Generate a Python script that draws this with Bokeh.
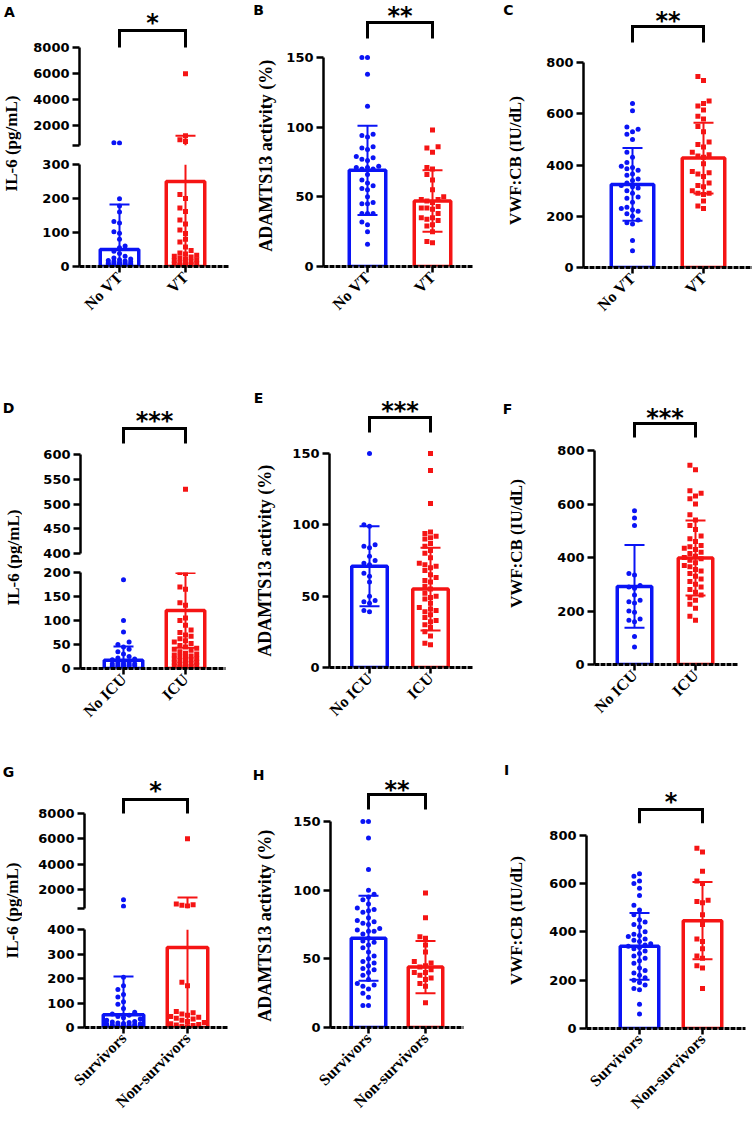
import math
from bokeh.plotting import figure
from bokeh.models import Range1d, FixedTicker, Label
from bokeh.layouts import row, column
from bokeh.core.properties import value
from bokeh.embed import file_html
from bokeh.resources import INLINE

# ---------------- data ----------------
VT_CATS = ["No VT", "VT"]
ICU_CATS = ["No ICU", "ICU"]
SURV_CATS = ["Survivors", "Non-survivors"]

IL6_LABEL = "IL-6 (pg/mL)"
ADAM_LABEL = "ADAMTS13 activity  (%)"
VWF_LABEL = "VWF:CB  (IU/dL)"

# A: IL-6, No VT vs VT
A_g1 = [720, 700, 199, 178, 160, 132, 128, 102, 98, 80, 60, 55, 45, 38, 30, 25, 22, 20, 18, 16,
        15, 14, 12, 10, 10, 9, 8, 8, 7, 6, 5, 5, 4, 3, 3, 2, 2]
A_g2 = [6000, 1240, 940, 800, 212, 200, 172, 162, 137, 125, 107, 97, 80, 72, 57, 47, 40, 37, 33,
        30, 28, 25, 22, 20, 18, 15, 12, 10, 8, 7, 5, 4, 3]
A_mean = [50, 250]
A_sd = [132, 1000]
A_low_ticks = [0, 100, 200, 300]
A_up_ticks = [500, 2000, 4000, 6000, 8000]

# B: ADAMTS13, No VT vs VT
B_g1 = [150, 150, 138, 115, 95, 94, 93, 86, 85, 84, 79, 78, 77, 76, 72, 71, 71, 70, 70, 66, 62,
        60, 58, 56, 55, 50, 46, 45, 45, 38, 38, 38, 32, 30, 25, 16]
B_g2 = [98, 86, 85, 82, 71, 70, 66, 62, 55, 50, 48, 48, 47, 46, 43, 42, 42, 41, 38, 35, 35, 34,
        33, 30, 29, 25, 18, 17]
B_mean = [69, 47]
B_sd = [32, 22]
B_ticks = [0, 50, 100, 150]

# C: VWF:CB, No VT vs VT
C_g1 = [640, 612, 548, 540, 530, 520, 500, 450, 430, 410, 395, 390, 385, 380, 365, 360, 345, 340,
        330, 320, 315, 310, 300, 290, 275, 270, 255, 235, 230, 225, 220, 210, 200, 185, 175, 170,
        105, 65]
C_g2 = [745, 730, 650, 640, 630, 615, 590, 580, 550, 530, 490, 480, 470, 450, 440, 435, 430, 405,
        375, 370, 365, 355, 330, 320, 315, 300, 290, 290, 285, 260, 240, 230]
C_mean = [324, 427]
C_sd = [142, 138]
C_ticks = [0, 200, 400, 600, 800]

# D: IL-6, No ICU vs ICU
D_g1 = [185, 100, 76, 55, 50, 45, 40, 35, 30, 25, 22, 20, 18, 15, 12, 12, 10, 10, 10, 8, 8, 7, 6,
        5, 5, 4, 3]
D_g2 = [530, 200, 198, 170, 165, 137, 132, 105, 100, 90, 80, 75, 70, 67, 62, 58, 55, 52, 48, 45,
        42, 40, 38, 35, 32, 30, 28, 26, 25, 23, 21, 20, 18, 16, 15, 13, 12, 10, 9, 8, 7, 5, 4, 3, 2]
D_mean = [17, 121]
D_sd = [29, 78]
D_low_ticks = [0, 50, 100, 150, 200]
D_up_ticks = [400, 450, 500, 550, 600]

# E: ADAMTS13, No ICU vs ICU
E_g1 = [150, 100, 99, 86, 85, 84, 78, 75, 73, 72, 66, 64, 60, 50, 47, 46, 45, 40, 39]
E_g2 = [150, 138, 115, 95, 94, 92, 91, 90, 87, 85, 82, 80, 77, 73, 72, 71, 70, 68, 65, 63, 61, 60,
        57, 55, 52, 50, 49, 48, 45, 42, 41, 40, 39, 37, 35, 33, 32, 30, 28, 25, 22, 17, 16]
E_mean = [71, 55]
E_sd = [28, 29]
E_ticks = [0, 50, 100, 150]

# F: VWF:CB, No ICU vs ICU
F_g1 = [575, 548, 520, 340, 335, 295, 290, 285, 260, 240, 235, 230, 200, 195, 170, 165, 160, 105, 65]
F_g2 = [745, 728, 650, 640, 630, 620, 600, 560, 540, 520, 505, 480, 470, 460, 445, 440, 435, 430,
        420, 415, 405, 400, 395, 390, 380, 370, 365, 355, 350, 340, 330, 320, 310, 300, 290, 280,
        270, 260, 250, 240, 225, 210, 180, 165]
F_mean = [292, 398]
F_sd = [155, 140]
F_ticks = [0, 200, 400, 600, 800]

# G: IL-6, Survivors vs Non-survivors
G_g1 = [1200, 680, 205, 170, 155, 135, 125, 105, 95, 78, 62, 55, 50, 45, 40, 35, 30, 25, 22, 20,
        18, 16, 15, 14, 12, 10, 10, 9, 8, 7, 6, 5, 5, 4, 3, 2]
G_g2 = [6000, 850, 800, 760, 700, 185, 170, 65, 60, 55, 50, 45, 42, 38, 35, 30, 25, 20, 15, 12, 10,
        8, 5, 3]
G_mean = [52, 327]
G_sd = [156, 1050]
G_low_ticks = [0, 100, 200, 300, 400]
G_up_ticks = [500, 2000, 4000, 6000, 8000]

# H: ADAMTS13, Survivors vs Non-survivors
H_g1 = [150, 150, 138, 115, 100, 97, 95, 93, 90, 87, 86, 85, 84, 80, 78, 77, 76, 75, 72, 71, 70, 70,
        68, 65, 63, 62, 60, 58, 55, 52, 50, 48, 47, 45, 43, 42, 40, 38, 35, 32, 31, 30, 28, 25, 22,
        16, 16]
H_g2 = [98, 80, 66, 65, 60, 55, 48, 47, 45, 44, 42, 40, 40, 38, 36, 35, 32, 30, 18]
H_mean = [65, 44]
H_sd = [31, 19]
H_ticks = [0, 50, 100, 150]

# I: VWF:CB, Survivors vs Non-survivors
I_g1 = [640, 630, 610, 600, 580, 550, 510, 490, 470, 450, 440, 430, 420, 400, 390, 385, 380, 370,
        365, 360, 350, 345, 340, 335, 330, 320, 310, 300, 290, 280, 270, 250, 240, 230, 220, 210,
        200, 190, 180, 165, 160, 100, 60]
I_g2 = [745, 730, 650, 610, 600, 530, 525, 520, 470, 430, 370, 360, 330, 300, 290, 260, 250, 165]
I_mean = [340, 446]
I_sd = [138, 160]
I_ticks = [0, 200, 400, 600, 800]

# ---------------- layout / style (page pixel positions) ----------------
BLUE = "#0a14f5"
RED = "#f51414"
SANS = "DejaVu Sans"
SERIF = "Liberation Serif"

COLS_X = [0, 250, 500]
COLS_W = [250, 250, 252]
LAB_W = [22, 27, 27]
ROWS_Y = [0, 375, 755]
ROWS_H = [375, 380, 365]
BIG = 1e12


def swarm(ypx, maxoff, d=5.6):
    """Deterministic beeswarm: horizontal pixel offsets so points do not overlap."""
    cands = [0.0]
    k = 1
    while k * d <= maxoff + 1e-9:
        cands += [-k * d, k * d]
        k += 1
    order = sorted(range(len(ypx)), key=lambda i: ypx[i])
    placed = []
    out = [0.0] * len(ypx)
    for i in order:
        y = ypx[i]
        best, bestc, bestscore = None, 0.0, -1.0
        for c in cands:
            md = min((math.hypot(c - px, y - py) for px, py in placed), default=1e9)
            if md >= d * 0.999:
                best = c
                break
            if md > bestscore:
                bestscore, bestc = md, c
        if best is None:
            best = bestc
        placed.append((best, y))
        out[i] = best
    return out


def base_fig(w, h, xr, yr, bl, br, bt, bb, xaxis=True, yaxis=True):
    p = figure(width=w, height=h, x_range=xr, y_range=yr, toolbar_location=None,
               output_backend="svg", title=None,
               min_border_left=int(bl), min_border_right=int(br),
               min_border_top=int(bt), min_border_bottom=int(bb),
               x_axis_location="below" if xaxis else None,
               y_axis_location="left" if yaxis else None)
    p.grid.visible = False
    p.outline_line_color = None
    p.background_fill_color = "white"
    p.border_fill_color = "white"
    return p


def style_y(ax, ticks, overrides=None):
    ax.ticker = FixedTicker(ticks=ticks, minor_ticks=[])
    ax.bounds = (ticks[0], ticks[-1])
    ax.axis_line_width = 2.5
    ax.axis_line_color = "black"
    ax.major_tick_line_width = 2.5
    ax.major_tick_out = 7
    ax.major_tick_in = 0
    ax.minor_tick_line_color = None
    ax.major_label_text_font = SANS
    ax.major_label_text_font_style = "bold"
    ax.major_label_text_font_size = "13px"
    ax.major_label_text_color = "black"
    ax.major_label_standoff = 3
    if overrides:
        ax.major_label_overrides = overrides


def style_x(ax, cats):
    ax.ticker = FixedTicker(ticks=[1, 2], minor_ticks=[])
    ax.major_label_overrides = {1: cats[0], 2: cats[1]}
    ax.major_label_orientation = math.pi / 4
    ax.axis_line_width = 3
    ax.axis_line_color = "black"
    ax.axis_line_dash = "5 1"
    ax.major_tick_line_width = 2.5
    ax.major_tick_out = 6
    ax.major_tick_in = 0
    ax.minor_tick_line_color = None
    ax.major_label_text_font = SERIF
    ax.major_label_text_font_style = "bold"
    ax.major_label_text_font_size = "16px"
    ax.major_label_text_color = "black"
    ax.major_label_standoff = 2


def draw_groups(p, g, geo, ypx, ppx, vmin, vmax):
    """Bars, points and mean +/- SD bars; only the parts inside [vmin, vmax] are drawn."""
    bw = (geo["bw"] - 3.5) / ppx
    cols = [BLUE, RED]
    bx = [i + 1 for i in range(2) if g["mean"][i] > vmin]
    if bx:
        p.vbar(x=bx, width=bw, bottom=max(0, vmin), top=[min(g["mean"][i - 1], vmax) for i in bx],
               fill_color="white", line_color=[cols[i - 1] for i in bx], line_width=3.5)
    half = geo["bw"] / 2 - 5
    for k, (vals, col, mk) in enumerate([(g["g1"], BLUE, "circle"), (g["g2"], RED, "square")]):
        offs = swarm([ypx(v) for v in vals], half)
        xs = [k + 1 + o / ppx for v, o in zip(vals, offs) if vmin <= v <= vmax]
        ys = [v for v in vals if vmin <= v <= vmax]
        if ys:
            p.scatter(x=xs, y=ys, marker=mk, size=5, color=col, line_width=0)
    cw = 10 / ppx
    for i in range(2):
        m, s = g["mean"][i], g["sd"][i]
        lo, hi = m - s, m + s
        a, b = max(lo, vmin, 0), min(hi, vmax)
        if b > a:
            p.segment(x0=[i + 1], y0=[a], x1=[i + 1], y1=[b], line_color=cols[i], line_width=2)
        for e in (lo, hi):
            if max(vmin, 0) <= e <= vmax:
                p.segment(x0=[i + 1 - cw], y0=[e], x1=[i + 1 + cw], y1=[e],
                          line_color=cols[i], line_width=2)


def bracket(p, stars, vtop, vbot, vstar):
    p.line(x=[1, 1, 2, 2], y=[vbot, vtop, vtop, vbot], line_color="black", line_width=3,
           line_join="miter")
    p.text(x=[1.5], y=[vstar], text=[stars], text_font=value(SANS), text_font_style="bold",
           text_font_size="24px", text_align="center", text_baseline="middle", text_color="black")


def label_fig(ci, ri, g, geo, fb=None):
    """Narrow figure holding the panel letter and the rotated y-axis title.
    fb: canvas y of the frame bottom (frame spans [0, fb]); None -> whole canvas."""
    cx, ry, rh, lw = COLS_X[ci], ROWS_Y[ri], ROWS_H[ri], LAB_W[ci]
    if fb is None:
        fb = rh
    lab = base_fig(lw, rh, Range1d(0, 1), Range1d(0, 1), 0, 0, 0, rh - fb,
                   xaxis=False, yaxis=False)
    lx, ly = geo["letter"]
    lab.add_layout(Label(x=max(lx - cx, 6), y=fb - max(ly - ry, 8), x_units="screen",
                         y_units="screen", text=g["letter"], text_font=SANS,
                         text_font_style="bold", text_font_size="14px", text_align="center",
                         text_baseline="middle", text_color="black"))
    yx, yy = geo["ylab"]
    lab.add_layout(Label(x=max(yx - cx, 9), y=fb - (yy - ry), x_units="screen", y_units="screen",
                         text=g["ylabel"], text_font=SERIF, text_font_style="bold",
                         text_font_size=g["ysize"], text_align="center", text_baseline="middle",
                         angle=math.pi / 2, text_color="black"))
    return lab


def xrange_for(geo, xright):
    ppx = geo["c2"] - geo["c1"]
    return ppx, Range1d(1 - (geo["c1"] - geo["ax"]) / ppx, 2 + (xright - geo["c2"]) / ppx)


def normal_panel(ci, ri, g, geo):
    cx, cw, ry, rh, lw = COLS_X[ci], COLS_W[ci], ROWS_Y[ri], ROWS_H[ri], LAB_W[ci]
    w = cw - lw
    xright = min(geo["xr"], cx + cw)
    fl = geo["ax"] - cx - lw
    br = cx + cw - xright
    fb = geo["y0"] - ry
    t = g["ticks"]
    ppu = (geo["y0"] - geo["yt"]) / (t[-1] - t[0])
    ppx, xr = xrange_for(geo, xright)
    yr = Range1d(0, fb / ppu)
    p = base_fig(w, rh, xr, yr, fl, br, 0, rh - fb)
    style_y(p.yaxis[0], t)
    style_x(p.xaxis[0], g["cats"])
    draw_groups(p, g, geo, lambda v: v * ppu, ppx, 0, BIG)
    val = lambda yc: (fb - yc) / ppu
    sy = max(geo["star"] - ry, 8) + 5
    bracket(p, g["stars"], val(geo["br_t"] - ry), val(geo["br_b"] - ry), val(sy))
    return row(label_fig(ci, ri, g, geo, fb), p)


def broken_panel(ci, ri, g, geo):
    cx, cw, ry, rh, lw = COLS_X[ci], COLS_W[ci], ROWS_Y[ri], ROWS_H[ri], LAB_W[ci]
    w = cw - lw
    xright = min(geo["xr"], cx + cw)
    fl = geo["ax"] - cx - lw
    br = cx + cw - xright
    split = int((geo["up_b"] + geo["lo_t"]) / 2) - ry
    uh, lh = split, rh - split
    ut, lt = g["uticks"], g["lticks"]
    ppx, xr = xrange_for(geo, xright)
    # upper segment
    ppu_u = (geo["up_b"] - geo["up_t"]) / (ut[-1] - ut[0])
    fb_u = geo["up_b"] - ry
    up = base_fig(w, uh, xr, Range1d(ut[0], ut[0] + fb_u / ppu_u), fl, br, 0, uh - fb_u, xaxis=False)
    style_y(up.yaxis[0], ut, {v: "" for v in g["uhide"]})
    # lower segment
    ppu_l = (geo["y0"] - geo["lo_t"]) / (lt[-1] - lt[0])
    ft_l = geo["lo_t"] - ry - split
    fb_l = geo["y0"] - ry - split
    lo = base_fig(w, lh, xr, Range1d(0, lt[-1]), fl, br, ft_l, lh - fb_l)
    style_y(lo.yaxis[0], lt)
    style_x(lo.xaxis[0], g["cats"])

    gap = geo["y0"] - geo["up_b"]

    def ypx(v):
        if v <= lt[-1]:
            return v * ppu_l
        return gap + (v - ut[0]) * ppu_u

    draw_groups(up, g, geo, ypx, ppx, ut[0], BIG)
    draw_groups(lo, g, geo, ypx, ppx, 0, lt[-1])
    val = lambda yc: ut[0] + (fb_u - yc) / ppu_u
    sy = max(geo["star"] - ry, 8) + 5
    bracket(up, g["stars"], val(geo["br_t"] - ry), val(geo["br_b"] - ry), val(sy))
    return row(label_fig(ci, ri, g, geo), column(up, lo))


GEO = {
    "A": dict(ax=79, xr=228, c1=119, c2=185, bw=42, y0=266, lo_t=164, up_b=145, up_t=47,
              star=17, br_t=30, br_b=47, letter=(9, 11), ylab=(11, 143)),
    "B": dict(ax=323, xr=473, c1=367, c2=432, bw=40, y0=266, yt=57,
              star=10, br_t=22, br_b=38, letter=(258, 9), ylab=(265, 153)),
    "C": dict(ax=583, xr=752, c1=632, c2=703, bw=46, y0=267, yt=62,
              star=15, br_t=26, br_b=42, letter=(508, 9), ylab=(515, 158)),
    "D": dict(ax=80, xr=225, c1=123, c2=185, bw=42, y0=668, lo_t=572, up_b=553, up_t=454,
              star=415, br_t=428, br_b=443, letter=(8, 407), ylab=(13, 557)),
    "E": dict(ax=329, xr=472, c1=369, c2=430, bw=39, y0=667, yt=453,
              star=405, br_t=417, br_b=432, letter=(258, 397), ylab=(264, 558)),
    "F": dict(ax=594, xr=737, c1=634, c2=695, bw=38, y0=664, yt=450,
              star=412, br_t=423, br_b=437, letter=(507, 408), ylab=(516, 541)),
    "G": dict(ax=84, xr=228, c1=123, c2=187, bw=44, y0=1027, lo_t=929, up_b=908, up_t=813,
              star=785, br_t=799, br_b=813, letter=(8, 771), ylab=(12, 910)),
    "H": dict(ax=330, xr=463, c1=368, c2=425, bw=38, y0=1027, yt=821,
              star=784, br_t=794, br_b=809, letter=(258, 774), ylab=(264, 923)),
    "I": dict(ax=586, xr=745, c1=639, c2=702, bw=42, y0=1033, yt=836,
              star=797, br_t=810, br_b=824, letter=(505, 774), ylab=(516, 923)),
}

PANELS = {
    "A": dict(cats=VT_CATS, g1=A_g1, g2=A_g2, mean=A_mean, sd=A_sd, lticks=A_low_ticks,
              uticks=A_up_ticks, uhide=[500], ylabel=IL6_LABEL, ysize="17px", stars="*", letter="A"),
    "B": dict(cats=VT_CATS, g1=B_g1, g2=B_g2, mean=B_mean, sd=B_sd, ticks=B_ticks,
              ylabel=ADAM_LABEL, ysize="18px", stars="**", letter="B"),
    "C": dict(cats=VT_CATS, g1=C_g1, g2=C_g2, mean=C_mean, sd=C_sd, ticks=C_ticks,
              ylabel=VWF_LABEL, ysize="17px", stars="**", letter="C"),
    "D": dict(cats=ICU_CATS, g1=D_g1, g2=D_g2, mean=D_mean, sd=D_sd, lticks=D_low_ticks,
              uticks=D_up_ticks, uhide=[], ylabel=IL6_LABEL, ysize="17px", stars="***", letter="D"),
    "E": dict(cats=ICU_CATS, g1=E_g1, g2=E_g2, mean=E_mean, sd=E_sd, ticks=E_ticks,
              ylabel=ADAM_LABEL, ysize="18px", stars="***", letter="E"),
    "F": dict(cats=ICU_CATS, g1=F_g1, g2=F_g2, mean=F_mean, sd=F_sd, ticks=F_ticks,
              ylabel=VWF_LABEL, ysize="17px", stars="***", letter="F"),
    "G": dict(cats=SURV_CATS, g1=G_g1, g2=G_g2, mean=G_mean, sd=G_sd, lticks=G_low_ticks,
              uticks=G_up_ticks, uhide=[500], ylabel=IL6_LABEL, ysize="17px", stars="*", letter="G"),
    "H": dict(cats=SURV_CATS, g1=H_g1, g2=H_g2, mean=H_mean, sd=H_sd, ticks=H_ticks,
              ylabel=ADAM_LABEL, ysize="18px", stars="**", letter="H"),
    "I": dict(cats=SURV_CATS, g1=I_g1, g2=I_g2, mean=I_mean, sd=I_sd, ticks=I_ticks,
              ylabel=VWF_LABEL, ysize="17px", stars="*", letter="I"),
}

rows = []
for ri, names in enumerate([["A", "B", "C"], ["D", "E", "F"], ["G", "H", "I"]]):
    items = []
    for ci, nm in enumerate(names):
        g, geo = PANELS[nm], GEO[nm]
        items.append(broken_panel(ci, ri, g, geo) if "uticks" in g else normal_panel(ci, ri, g, geo))
    rows.append(row(*items))

layout = column(*rows)
open("out.html", "w").write(file_html(layout, INLINE))
